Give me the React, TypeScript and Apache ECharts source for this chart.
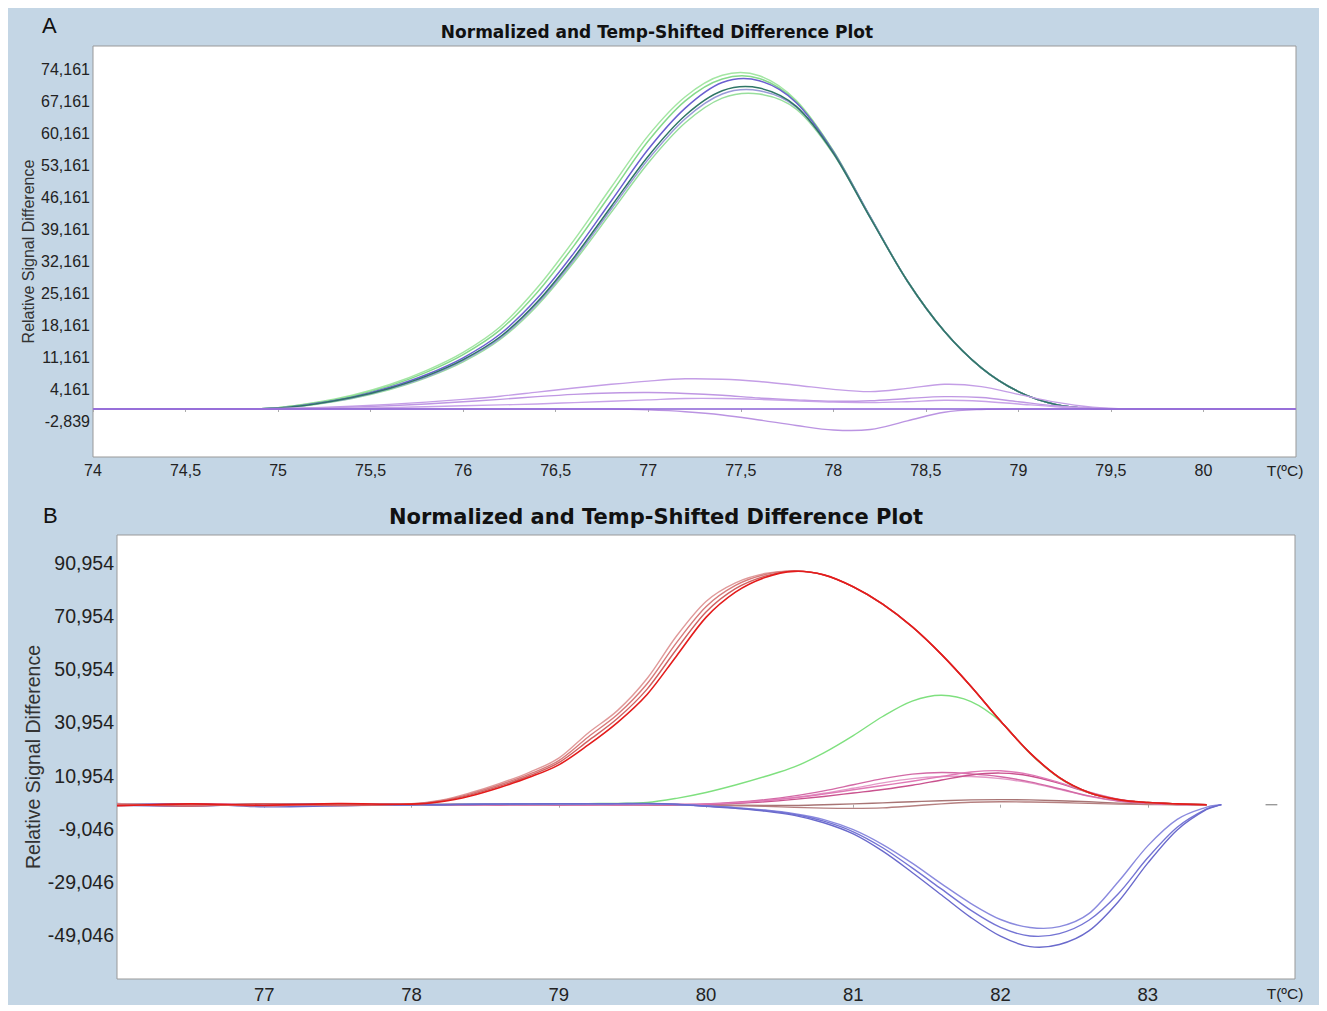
import React, { useEffect, useRef } from "react";
import * as echarts from "echarts";

// ---------- Panel A data ----------
const xA = [74, 74.4, 74.8, 75, 75.2, 75.4, 75.6, 75.8, 76, 76.2, 76.4, 76.6, 76.8, 77, 77.2, 77.4, 77.6, 77.8, 78, 78.2, 78.4, 78.6, 78.8, 79, 79.2, 79.4, 79.6, 79.8, 80.5];
const aGreen1 = [0, 0, 0, 0.3, 1.4, 3.0, 5.3, 8.4, 12.4, 18.0, 26.5, 37.0, 48.5, 59.8, 68.3, 73.0, 72.9, 67.5, 56.5, 42.0, 28.0, 17.0, 9.0, 3.8, 1.0, 0.1, 0, 0, 0];
const aGreen2 = [0, 0, 0, 0.3, 1.3, 2.8, 5.0, 8.0, 11.9, 17.3, 25.5, 35.8, 47.2, 58.6, 67.4, 72.2, 72.3, 67.2, 56.4, 42.0, 28.0, 17.0, 9.0, 3.8, 1.0, 0.1, 0, 0, 0];
const aBlue1 = [0, 0, 0, 0.2, 1.2, 2.6, 4.7, 7.5, 11.2, 16.4, 24.2, 34.2, 45.5, 56.8, 65.8, 71.4, 71.8, 67.0, 56.3, 42.0, 28.0, 17.0, 9.0, 3.8, 1.0, 0.1, 0, 0, 0];
const aBlue2 = [0, 0, 0, 0.2, 1.1, 2.5, 4.5, 7.2, 10.8, 15.8, 23.4, 33.2, 44.3, 55.3, 64.2, 69.6, 70.2, 66.2, 56.0, 41.8, 28.0, 17.0, 9.0, 3.8, 1.0, 0.1, 0, 0, 0];
const aBlue3 = [0, 0, 0, 0.2, 1.1, 2.4, 4.4, 7.0, 10.6, 15.5, 23.0, 32.7, 43.7, 54.6, 63.5, 68.9, 69.6, 66.0, 56.0, 41.8, 28.0, 17.0, 9.0, 3.8, 1.0, 0.1, 0, 0, 0];
const aGreen3 = [0, 0, 0, 0.2, 1.0, 2.3, 4.2, 6.8, 10.3, 15.2, 22.6, 32.2, 43.0, 53.8, 62.6, 68.0, 68.9, 65.6, 55.8, 41.8, 28.0, 17.0, 9.0, 3.8, 1.0, 0.1, 0, 0, 0];
const aPurple1 = [0, 0, 0, 0.1, 0.3, 0.6, 1.0, 1.5, 2.1, 2.8, 3.7, 4.6, 5.4, 6.1, 6.6, 6.5, 6.0, 5.2, 4.3, 3.8, 4.5, 5.4, 4.9, 3.2, 1.5, 0.4, 0, 0, 0];
const aPurple2 = [0, 0, 0, 0.05, 0.2, 0.4, 0.7, 1.1, 1.6, 2.1, 2.7, 3.2, 3.5, 3.6, 3.4, 3.0, 2.4, 2.0, 1.7, 1.8, 2.3, 2.7, 2.5, 1.6, 0.7, 0.2, 0, 0, 0];
const aPurple3 = [0, 0, 0, 0, 0.1, 0.2, 0.3, 0.5, 0.7, 0.9, 1.1, 1.4, 1.7, 2.0, 2.3, 2.3, 2.1, 1.8, 1.5, 1.4, 1.6, 1.9, 1.7, 1.1, 0.5, 0.1, 0, 0, 0];
const aPurple4 = [0, 0, 0, 0, 0, 0, 0, 0, 0, 0, 0, 0, 0, -0.2, -0.6, -1.3, -2.4, -3.6, -4.6, -4.5, -2.6, -0.7, -0.1, 0, 0, 0, 0, 0, 0];
const aBaseX = [74, 80.5];
const aBaseY = [0, 0];
const yTicksA = [-2.839, 4.161, 11.161, 18.161, 25.161, 32.161, 39.161, 46.161, 53.161, 60.161, 67.161, 74.161];
const xTicksA = [74, 74.5, 75, 75.5, 76, 76.5, 77, 77.5, 78, 78.5, 79, 79.5, 80, 80.5];

// ---------- Panel B data ----------
const xB = [76, 76.5, 77, 77.5, 78, 78.2, 78.4, 78.6, 78.8, 79, 79.2, 79.4, 79.6, 79.8, 80, 80.2, 80.4, 80.6, 80.8, 81, 81.2, 81.4, 81.6, 81.8, 82, 82.2, 82.4, 82.6, 82.8, 83, 83.2, 83.4, 83.5];
const bRed1 = [0.4, -0.3, 0.3, -0.2, 0.4, 1.7, 4.5, 8.0, 12.2, 17.5, 27.0, 35.5, 47.5, 63.5, 76.5, 83.5, 87.0, 88.0, 86.5, 82.0, 75.5, 67.0, 56.5, 44.5, 31.5, 19.5, 10.2, 4.6, 1.9, 0.8, 0.3, 0, null];
const bRed2 = [-0.3, 0.2, -0.4, 0.3, 0.3, 1.5, 4.1, 7.5, 11.5, 16.6, 25.5, 34.0, 45.5, 61.0, 74.5, 82.5, 86.6, 88.0, 86.5, 82.0, 75.5, 67.0, 56.5, 44.5, 31.5, 19.5, 10.2, 4.6, 1.9, 0.8, 0.3, 0, null];
const bRed3 = [0.2, -0.5, 0.4, -0.3, 0.2, 1.3, 3.7, 7.0, 10.9, 15.8, 24.0, 32.5, 43.5, 58.5, 72.5, 81.3, 86.0, 87.9, 86.5, 82.0, 75.5, 67.0, 56.5, 44.5, 31.5, 19.5, 10.2, 4.6, 1.9, 0.8, 0.3, 0, null];
const bRed4 = [-0.4, 0.3, -0.2, 0.4, 0.2, 1.1, 3.3, 6.5, 10.3, 15.0, 22.5, 31.0, 41.5, 56.0, 70.5, 80.0, 85.5, 87.8, 86.5, 82.0, 75.5, 67.0, 56.5, 44.5, 31.5, 19.5, 10.2, 4.6, 1.9, 0.8, 0.3, 0, null];
const bGreen = [0.3, -0.2, 0.2, 0.1, 0.0, 0.1, 0.2, 0.2, 0.3, 0.3, 0.4, 0.5, 0.8, 2.4, 4.6, 7.4, 10.6, 14.2, 19.5, 26.0, 33.2, 39.0, 41.2, 38.8, 31.3, 19.3, 10.0, 4.5, 1.9, 0.8, 0.3, 0, null];
const bPink1 = [0.1, 0.3, -0.2, 0.2, 0.1, 0, 0.1, 0, 0.1, 0, 0.1, 0, 0.1, 0.1, 0.3, 0.9, 1.9, 3.3, 5.2, 7.5, 9.8, 11.5, 12.1, 11.6, 10.5, 8.6, 6.0, 3.3, 1.4, 0.5, 0.1, 0, null];
const bPink2 = [-0.2, 0.1, 0.3, -0.1, 0, 0.1, 0, 0.1, 0, 0.1, 0, 0.1, 0, 0.1, 0.2, 0.7, 1.5, 2.6, 4.0, 5.6, 7.2, 8.8, 10.6, 12.3, 12.8, 11.3, 8.3, 4.8, 2.1, 0.7, 0.2, 0, null];
const bPink3 = [0.2, -0.1, 0.1, 0.2, 0.1, 0, 0.1, 0, 0.1, 0, 0, 0.1, 0, 0, 0.1, 0.5, 1.1, 2.0, 3.1, 4.4, 5.7, 7.3, 9.3, 11.2, 11.9, 10.8, 8.0, 4.6, 2.0, 0.7, 0.2, 0, null];
const bPink4 = [0, 0.2, -0.1, 0.1, 0, 0.1, 0, 0, 0.1, 0.1, 0, 0, 0.1, 0.1, 0.2, 0.7, 1.5, 2.7, 4.3, 6.2, 8.2, 9.8, 10.6, 10.6, 9.8, 8.2, 5.8, 3.2, 1.4, 0.5, 0.1, 0, null];
const bBrown1 = [0, 0.1, -0.1, 0, 0.1, 0, 0, 0.1, 0, 0, 0.1, 0, 0, 0, 0, -0.2, -0.3, -0.3, 0, 0.3, 0.7, 1.1, 1.5, 1.8, 1.9, 1.8, 1.5, 1.1, 0.6, 0.3, 0.1, 0, null];
const bBrown2 = [0.1, 0, 0.1, -0.1, 0, 0.1, 0, 0, 0, 0.1, 0, 0, -0.1, -0.1, -0.2, -0.4, -0.6, -1.0, -1.3, -1.4, -1.2, -0.5, 0.3, 0.9, 1.1, 1.0, 0.8, 0.5, 0.2, 0.1, 0, 0, null];
const bBlue1 = [-0.3, 0.4, -0.8, -0.4, 0, 0, 0.1, 0.2, 0.3, 0.4, 0.3, 0.4, 0.5, 0.2, -0.6, -1.4, -2.4, -4.0, -6.8, -11.0, -17.5, -25.5, -34.0, -42.5, -49.5, -53.4, -52.6, -47.5, -36.5, -22.0, -9.5, -1.8, 0];
const bBlue2 = [0.5, -0.4, 0.2, 0.3, 0.1, 0, 0.2, 0.3, 0.2, 0.3, 0.4, 0.3, 0.4, 0.1, -0.5, -1.2, -2.2, -3.7, -6.2, -10.2, -16.2, -23.8, -31.8, -39.8, -46.2, -49.4, -48.5, -43.5, -33.5, -20.0, -8.5, -1.6, 0];
const bBlue3 = [-0.2, -0.6, 0.3, -0.3, 0, 0.1, 0.2, 0.2, 0.3, 0.2, 0.3, 0.4, 0.3, 0.1, -0.5, -1.1, -2.0, -3.4, -5.6, -9.4, -15.0, -22.0, -29.8, -37.2, -43.2, -46.2, -45.9, -41.0, -29.0, -15.5, -5.5, -0.9, 0];
const bDashX = [83.8, 83.88];
const bDashY = [0, 0];
const yTicksB = [-49.046, -29.046, -9.046, 10.954, 30.954, 50.954, 70.954, 90.954];
const xTicksB = [77, 78, 79, 80, 81, 82, 83, 84];

const TITLE = "Normalized and Temp-Shifted Difference Plot";
const SANS = "'Liberation Sans', Arial, sans-serif";

function pairs(xs: number[], ys: (number | null)[]) {
  const out: number[][] = [];
  xs.forEach((x, i) => {
    const y = ys[i];
    if (y !== null && y !== undefined) out.push([x, y]);
  });
  return out;
}

// A curve drawn through the data points (mapped by the axes' scales) with a
// cubic Hermite spline in x, so that it never loops or flattens at peaks.
function curve(idx: number, xs: number[], ys: (number | null)[], color: string, width = 1.5) {
  const pts = pairs(xs, ys);
  return {
    type: "custom",
    xAxisIndex: idx,
    yAxisIndex: idx,
    data: pts,
    encode: { x: 0, y: 1 },
    silent: true,
    renderItem: (params: any, api: any) => {
      if (params.dataIndex !== 0) return { type: "group", children: [] };
      const c = pts.map((p) => api.coord(p));
      const n = c.length;
      const m = c.map((_, i) => {
        const a = c[Math.max(0, i - 1)];
        const b = c[Math.min(n - 1, i + 1)];
        const dx = b[0] - a[0];
        return dx === 0 ? 0 : (b[1] - a[1]) / dx;
      });
      let d = `M${c[0][0]} ${c[0][1]}`;
      for (let i = 0; i < n - 1; i++) {
        const h = (c[i + 1][0] - c[i][0]) / 3;
        d += ` C${c[i][0] + h} ${c[i][1] + m[i] * h} ${c[i + 1][0] - h} ${c[i + 1][1] - m[i + 1] * h} ${c[i + 1][0]} ${c[i + 1][1]}`;
      }
      return {
        type: "path",
        shape: { pathData: d },
        style: { fill: "none", stroke: color, lineWidth: width },
      };
    },
  };
}

const comma = (v: number) => String(v).replace(".", ",");

export default function App() {
  const ref = useRef<HTMLDivElement>(null);
  useEffect(() => {
    if (!ref.current) return;
    const chart = echarts.init(ref.current, undefined, { renderer: "svg" });
    const axisLabelBase = { color: "#222", fontFamily: SANS };
    const option: any = {
      animation: false,
      backgroundColor: "transparent",
      title: [
        {
          text: TITLE,
          left: 649,
          textAlign: "center",
          top: 15,
          padding: 0,
          textStyle: { fontFamily: "'DejaVu Sans', sans-serif", fontWeight: "bold", fontSize: 17, color: "#111" },
        },
        {
          text: TITLE,
          left: 648,
          textAlign: "center",
          top: 498,
          padding: 0,
          textStyle: { fontFamily: "'DejaVu Sans', sans-serif", fontWeight: "bold", fontSize: 21, color: "#111" },
        },
      ],
      graphic: [
        { type: "text", x: 34, y: 17, style: { text: "A", fontSize: 22, fontFamily: SANS, fill: "#111", verticalAlign: "middle" } },
        { type: "text", x: 35, y: 507, style: { text: "B", fontSize: 22, fontFamily: SANS, fill: "#111", verticalAlign: "middle" } },
      ],
      grid: [
        { left: 85, top: 38, width: 1203, height: 411, show: true, backgroundColor: "#fff", borderColor: "#999", borderWidth: 1 },
        { left: 109, top: 527, width: 1178, height: 444, show: true, backgroundColor: "#fff", borderColor: "#999", borderWidth: 1 },
      ],
      xAxis: [
        {
          type: "value",
          gridIndex: 0,
          min: 74,
          max: 80.5,
          axisLine: { show: false },
          axisTick: { show: true, length: 3, lineStyle: { color: "#aaa" }, customValues: xTicksA.slice(0, -1) },
          splitLine: { show: false },
          axisLabel: {
            ...axisLabelBase,
            customValues: xTicksA,
            fontSize: 16,
            margin: 5,
            formatter: (v: number) => (v === 80.5 ? "{u|T(ºC)}" : comma(v)),
            rich: { u: { fontSize: 15.5, fontFamily: SANS, color: "#222", padding: [0, 22, 0, 0] } },
          },
        },
        {
          type: "value",
          gridIndex: 1,
          min: 76,
          max: 84,
          axisLine: { show: false },
          axisTick: { show: true, length: 3, lineStyle: { color: "#aaa" }, customValues: xTicksB.slice(0, -1) },
          splitLine: { show: false },
          axisLabel: {
            ...axisLabelBase,
            customValues: xTicksB,
            fontSize: 18.5,
            margin: 6,
            formatter: (v: number) => (v === 84 ? "{u|T(ºC)}" : comma(v)),
            rich: { u: { fontSize: 15.5, fontFamily: SANS, color: "#222", padding: [0, 20, 0, 0] } },
          },
        },
      ],
      yAxis: [
        {
          type: "value",
          gridIndex: 0,
          min: -10.5,
          max: 79.4,
          name: "Relative Signal Difference",
          nameLocation: "middle",
          nameGap: 57,
          nameRotate: 90,
          nameMoveOverlap: false,
          nameTextStyle: { fontSize: 16, fontFamily: SANS, color: "#333" },
          axisLine: { show: false },
          axisTick: { show: false },
          splitLine: { show: false },
          axisLabel: {
            ...axisLabelBase,
            customValues: yTicksA,
            fontSize: 16,
            margin: 3,
            formatter: (v: number) => v.toFixed(3).replace(".", ","),
          },
        },
        {
          type: "value",
          gridIndex: 1,
          min: -65.6,
          max: 101.5,
          name: "Relative Signal Difference",
          nameLocation: "middle",
          nameGap: 74,
          nameRotate: 90,
          nameMoveOverlap: false,
          nameTextStyle: { fontSize: 19.5, fontFamily: SANS, color: "#333" },
          axisLine: { show: false },
          axisTick: { show: false },
          splitLine: { show: false },
          axisLabel: {
            ...axisLabelBase,
            customValues: yTicksB,
            fontSize: 19.5,
            margin: 3,
            formatter: (v: number) => v.toFixed(3).replace(".", ","),
          },
        },
      ],
      series: [
        // Panel A
        curve(0, xA, aGreen1, "#a3e6a3"),
        curve(0, xA, aGreen2, "#86d98c"),
        curve(0, xA, aBlue1, "#6a5fd0"),
        curve(0, xA, aGreen3, "#98df9c"),
        curve(0, xA, aBlue3, "#9a9ad8"),
        curve(0, xA, aBlue2, "#2f7666"),
        curve(0, xA, aPurple1, "#c49ee6", 1.4),
        curve(0, xA, aPurple2, "#bf97e3", 1.4),
        curve(0, xA, aPurple3, "#c8a3e8", 1.4),
        curve(0, xA, aPurple4, "#bb94e2", 1.4),
        curve(0, aBaseX, aBaseY, "#8b62d6", 1.6),
        // Panel B
        curve(1, xB, bBrown1, "#a87474", 1.4),
        curve(1, xB, bBrown2, "#b58080", 1.4),
        curve(1, xB, bPink4, "#e49ac8", 1.4),
        curve(1, xB, bPink1, "#d36aa6", 1.4),
        curve(1, xB, bPink3, "#c9528e", 1.4),
        curve(1, xB, bPink2, "#e07ab6", 1.4),
        curve(1, xB, bGreen, "#7fe07f", 1.4),
        curve(1, xB, bBlue3, "#8a8ade", 1.4),
        curve(1, xB, bBlue2, "#7474d4", 1.4),
        curve(1, xB, bBlue1, "#6a6acc", 1.4),
        curve(1, xB, bRed1, "#e09a9a", 1.4),
        curve(1, xB, bRed2, "#d77a7a", 1.4),
        curve(1, xB, bRed3, "#cf6060", 1.4),
        curve(1, xB, bRed4, "#e41b1b", 1.6),
        curve(1, bDashX, bDashY, "#999", 1.4),
      ],
    };
    chart.setOption(option);
    return () => chart.dispose();
  }, []);
  return <div ref={ref} style={{ width: 1311, height: 997, background: "#c4d6e5" }} />;
}
